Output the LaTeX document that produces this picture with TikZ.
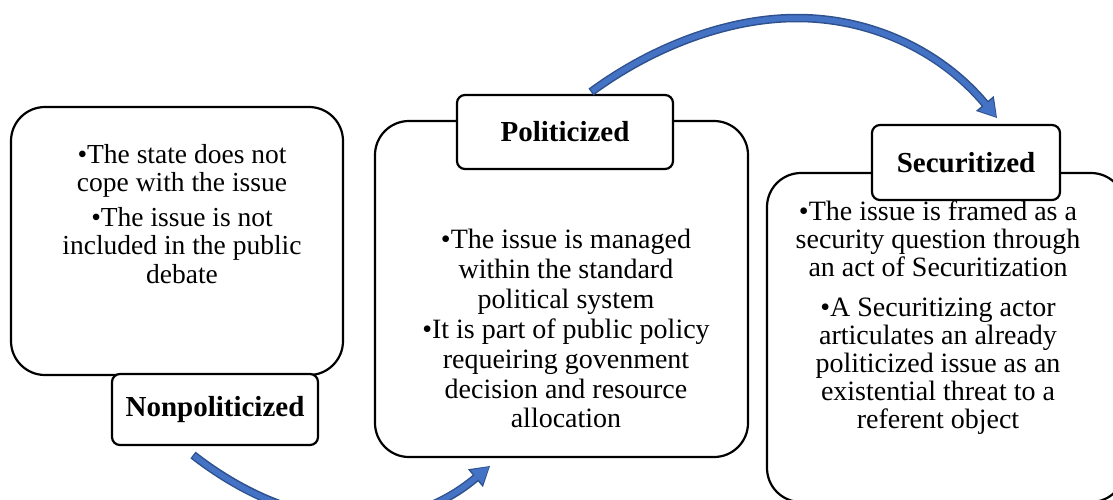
\documentclass[tikz,border=0pt]{standalone}
\usepackage{fontspec}
\setmainfont{Liberation Serif}
\usetikzlibrary{arrows.meta}
\definecolor{arrowblue}{HTML}{4472C4}
\definecolor{arrowedge}{HTML}{2F528F}

\begin{document}
\begin{tikzpicture}[x=1pt,y=-1pt,
  bigbox/.style={draw=black, line width=2.2pt, rounded corners=34pt, inner sep=0pt},
  tagbox/.style={draw=black, fill=white, line width=2.2pt, rounded corners=8pt, inner sep=0pt,
    font=\fontsize{29}{32}\selectfont\bfseries},
  bodytext/.style={align=center, inner sep=0pt, anchor=north},
  flowshaft/.style={line width=8.5pt, draw=arrowedge,
    -{Triangle[length=19pt,width=23pt,line width=1.5pt 0,fill=arrowblue]}},
  flowcore/.style={line width=5.5pt, draw=arrowblue, shorten >=1.4pt, shorten <=1.3pt,
    -{Triangle[length=16pt,width=18.5pt,line width=0pt 0,fill=arrowblue]}}
]
\useasboundingbox (0,0) rectangle (1113,499);
\begin{scope}
\clip (0,0) rectangle (1113,499);

% outer stage boxes
\node[bigbox, minimum width=332pt, minimum height=268pt] (npbox) at (177,241) {};
\node[bigbox, minimum width=373pt, minimum height=336pt] (pbox) at (561.5,289) {};
\node[bigbox, minimum width=358pt, minimum height=329pt] (sbox) at (946,337.5) {};

% stage descriptions
\node[bodytext, font=\fontsize{27.5}{28.5}\selectfont] (nptext) at (182,144)
  {\textbullet The state does not\\ cope with the issue\\[6pt]
   \textbullet The issue is not\\ included in the public\\ debate};
\node[bodytext, font=\fontsize{28}{29.7}\selectfont] (ptext) at (566,229)
  {\textbullet The issue is managed\\ within the standard\\ political system\\[1pt]
   \textbullet It is part of public policy\\ requeiring govenment\\ decision and resource\\ allocation};
\node[bodytext, font=\fontsize{28}{28}\selectfont] (stext) at (938,201)
  {\textbullet The issue is framed as a\\ security question through\\ an act of Securitization\\[12pt]
   \textbullet A Securitizing actor\\ articulates an already\\ politicized issue as an\\ existential threat to a\\ referent object};

% stage labels
\node[tagbox, minimum width=206pt, minimum height=71pt] (nplabel) at (215,409.5) {Nonpoliticized};
\node[tagbox, minimum width=216pt, minimum height=74pt] (plabel) at (565,132) {Politicized};
\node[tagbox, minimum width=188pt, minimum height=75pt] (slabel) at (966,162.5) {Securitized};

% transition arrows
\coordinate (lowstart) at (193,455);
\coordinate (lowend) at (490,466);
\coordinate (highstart) at (591,92);
\coordinate (highpeak) at (797,18);
\coordinate (highend) at (997,118);

\foreach \layer in {flowshaft,flowcore}{
  \draw[\layer] (lowstart) .. controls (288,529) and (398,543) .. (lowend);
  \draw[\layer] (highstart) .. controls (655,45) and (730,18) .. (highpeak)
                .. controls (870,18) and (940,50) .. (highend);
}
\end{scope}
\end{tikzpicture}
\end{document}
